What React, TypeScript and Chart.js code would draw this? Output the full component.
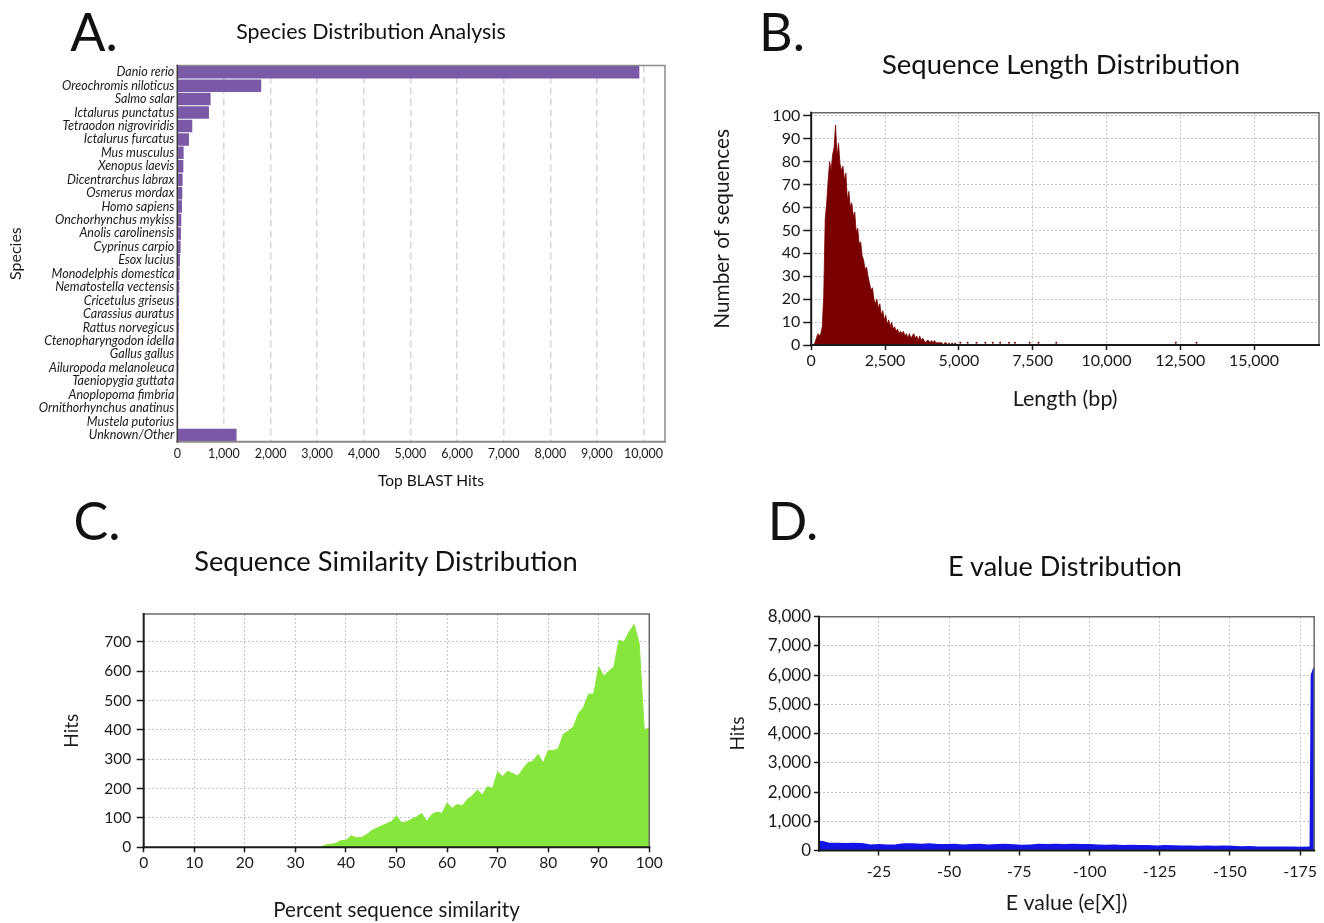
import React, { useEffect, useRef } from 'react';
import { Chart, registerables } from 'chart.js';

Chart.register(...registerables);

const FONT = 'Lato, "Open Sans", sans-serif';
const TEXT = '#1a1a1a';

// ---------- Panel A: species distribution ----------
const SPECIES = [
  'Danio rerio', 'Oreochromis niloticus', 'Salmo salar', 'Ictalurus punctatus',
  'Tetraodon nigroviridis', 'Ictalurus furcatus', 'Mus musculus', 'Xenopus laevis',
  'Dicentrarchus labrax', 'Osmerus mordax', 'Homo sapiens', 'Onchorhynchus mykiss',
  'Anolis carolinensis', 'Cyprinus carpio', 'Esox lucius', 'Monodelphis domestica',
  'Nematostella vectensis', 'Cricetulus griseus', 'Carassius auratus', 'Rattus norvegicus',
  'Ctenopharyngodon idella', 'Gallus gallus', 'Ailuropoda melanoleuca', 'Taeniopygia guttata',
  'Anoplopoma fimbria', 'Ornithorhynchus anatinus', 'Mustela putorius', 'Unknown/Other',
];
const TOP_HITS = [
  9910, 1800, 714, 679, 321, 250, 136, 130, 114, 107, 100, 86, 79, 71, 57, 50,
  43, 40, 36, 34, 30, 28, 24, 18, 16, 10, 8, 1271,
];
const HITS_TICKS = [0, 1000, 2000, 3000, 4000, 5000, 6000, 7000, 8000, 9000, 10000];

// ---------- Panel B: sequence length distribution (50 bp bins from 0) ----------
const LENGTH_BIN_WIDTH = 50;
const LENGTH_COUNTS = [
  0, 0, 1, 3, 5, 4, 5, 8, 22, 55,
  62, 72, 80, 76, 83, 86, 96, 82, 88, 79,
  76, 78, 72, 75, 63, 67, 60, 62, 56, 58,
  49, 51, 44, 45, 39, 37, 33, 34, 30, 27,
  24, 25, 20, 18, 20, 16, 18, 13, 15, 11,
  13, 9, 11, 8, 10, 7, 8, 6, 7, 5,
  6, 5, 6, 4, 5, 3, 5, 3, 4, 5,
  3, 4, 2, 4, 2, 3, 2, 1, 2, 2,
  1, 2, 1, 2, 1, 1, 1, 1, 1, 0,
  1, 1, 0, 1, 0, 1, 0, 1, 0, 0,
];
const TAIL_LENGTHS = [5050, 5300, 5600, 5900, 6150, 6400, 6700, 6900, 7400, 7700, 8300, 12350, 13050];
const TAIL_COUNTS = [1, 1, 1, 1, 1, 1, 1, 1, 1, 1, 1, 1, 1];
const LENGTH_TICKS = [0, 2500, 5000, 7500, 10000, 12500, 15000];
const SEQ_COUNT_TICKS = [0, 10, 20, 30, 40, 50, 60, 70, 80, 90, 100];

// ---------- Panel C: percent similarity (0..100) ----------
const SIMILARITY_PCT = [
  0, 1, 2, 3, 4, 5, 6, 7, 8, 9, 10, 11, 12, 13, 14, 15, 16, 17, 18, 19, 20,
  21, 22, 23, 24, 25, 26, 27, 28, 29, 30, 31, 32, 33, 34, 35, 36, 37, 38, 39, 40,
  41, 42, 43, 44, 45, 46, 47, 48, 49, 50, 51, 52, 53, 54, 55, 56, 57, 58, 59, 60,
  61, 62, 63, 64, 65, 66, 67, 68, 69, 70, 71, 72, 73, 74, 75, 76, 77, 78, 79, 80,
  81, 82, 83, 84, 85, 86, 87, 88, 89, 90, 91, 92, 93, 94, 95, 96, 97, 98, 99, 100,
];
const SIMILARITY_HITS = [
  0, 0, 0, 0, 0, 0, 0, 0, 0, 0, 0, 0, 0, 0, 0, 0, 0, 0, 0, 0, 0,
  0, 0, 0, 0, 0, 0, 0, 0, 0, 0, 0, 0, 0, 0, 0, 8, 10, 14, 23, 23,
  39, 33, 33, 42, 56, 65, 73, 80, 88, 107, 84, 87, 96, 104, 115, 89, 112, 120, 116, 151,
  133, 146, 141, 163, 176, 195, 178, 207, 200, 257, 241, 260, 251, 243, 267, 288, 293, 317, 287, 330,
  329, 336, 385, 396, 411, 456, 477, 522, 522, 615, 583, 600, 615, 706, 700, 734, 759, 695, 400, 407,
];
const PCT_TICKS = [0, 10, 20, 30, 40, 50, 60, 70, 80, 90, 100];
const SIM_HIT_TICKS = [0, 100, 200, 300, 400, 500, 600, 700];

// ---------- Panel D: E value distribution ----------
const E_EXPONENTS = [
  -3.66, -5, -7, -10, -13, -16, -19, -22, -25, -28, -31, -34, -37, -40, -43, -46, -49,
  -52, -55, -58, -61, -64, -67, -70, -73, -76, -79, -82, -85, -88, -91, -94, -97, -100,
  -103, -106, -109, -112, -115, -118, -121, -124, -127, -130, -133, -136, -139, -142,
  -145, -148, -151, -154, -157, -160, -163, -166, -169, -172, -175, -178, -178.7, -179.1, -180,
];
const E_HITS = [
  300, 290, 240, 230, 225, 230, 220, 170, 190, 175, 180, 210, 215, 200, 215, 190, 185,
  200, 175, 185, 200, 170, 185, 195, 180, 160, 175, 195, 190, 200, 185, 195, 190, 185,
  170, 160, 175, 155, 160, 150, 155, 140, 150, 145, 140, 135, 130, 140,
  125, 135, 130, 115, 120, 100, 105, 100, 105, 100, 95, 100, 100, 6000, 6250,
];
const E_TICKS = [-25, -50, -75, -100, -125, -150, -175];
const E_HIT_TICKS = [0, 1000, 2000, 3000, 4000, 5000, 6000, 7000, 8000];

// ---------- helpers ----------
const framePlugin = {
  id: 'frame',
  afterDraw(chart: any, _args: any, opts: any) {
    const { ctx, chartArea: a } = chart;
    ctx.save();
    ctx.lineCap = 'square';
    ctx.strokeStyle = opts.frameColor;
    ctx.lineWidth = opts.frameWidth;
    ctx.beginPath();
    ctx.moveTo(a.left, a.top);
    ctx.lineTo(a.right, a.top);
    ctx.lineTo(a.right, a.bottom);
    ctx.stroke();
    ctx.strokeStyle = opts.bottomColor;
    ctx.lineWidth = opts.bottomWidth;
    ctx.beginPath();
    ctx.moveTo(a.left, a.bottom);
    ctx.lineTo(a.right, a.bottom);
    ctx.stroke();
    ctx.strokeStyle = opts.leftColor;
    ctx.lineWidth = opts.leftWidth;
    ctx.beginPath();
    ctx.moveTo(a.left, a.top);
    ctx.lineTo(a.left, a.bottom);
    ctx.stroke();
    ctx.restore();
  },
};

const darkFrame = {
  frameColor: '#6a6a6a', frameWidth: 1.5,
  bottomColor: '#1a1a1a', bottomWidth: 2,
  leftColor: '#1a1a1a', leftWidth: 2,
};

const font = (size: number, style?: string) => ({ family: FONT, size, style: style || 'normal' });

const fixedTicks = (values: number[]) => (scale: any) => {
  scale.ticks = values.map((value) => ({ value }));
};

function dottedGrid(tickLength: number) {
  return {
    color: '#c4c4c4',
    lineWidth: 1,
    borderDash: [2, 2],
    drawTicks: true,
    tickLength,
    tickColor: '#1a1a1a',
    tickWidth: 1.5,
  };
}

function ChartCanvas(props: { left: number; top: number; width: number; height: number; make: () => any }) {
  const ref = useRef<HTMLCanvasElement>(null);
  useEffect(() => {
    const chart = new Chart(ref.current as HTMLCanvasElement, props.make());
    return () => chart.destroy();
  }, []);
  return (
    <canvas
      ref={ref}
      width={props.width}
      height={props.height}
      style={{ position: 'absolute', left: props.left, top: props.top, width: props.width, height: props.height }}
    />
  );
}

function Label(props: { cx: number; cy: number; size: number; text: string }) {
  return (
    <div
      style={{
        position: 'absolute',
        left: props.cx - 400,
        width: 800,
        top: props.cy - props.size * 0.6,
        height: props.size * 1.2,
        lineHeight: `${props.size * 1.2}px`,
        fontSize: props.size,
        fontFamily: FONT,
        textAlign: 'center',
        color: '#111',
        whiteSpace: 'nowrap',
      }}
    >
      {props.text}
    </div>
  );
}

// ---------- chart configs ----------
const makeA = () => ({
  type: 'bar',
  data: {
    labels: SPECIES,
    datasets: [
      {
        data: TOP_HITS,
        backgroundColor: '#7a59a6',
        barPercentage: 0.93,
        categoryPercentage: 1,
      },
    ],
  },
  options: {
    indexAxis: 'y',
    responsive: false,
    animation: false,
    locale: 'en-US',
    layout: { padding: { left: 0, top: 10, right: 25, bottom: 11.6 } },
    plugins: {
      legend: { display: false },
      tooltip: { enabled: false },
      frame: {
        frameColor: '#8a8a8a', frameWidth: 1.5,
        bottomColor: '#8a8a8a', bottomWidth: 2,
        leftColor: '#3a3a3a', leftWidth: 1.5,
      },
    },
    scales: {
      x: {
        type: 'linear',
        min: 0,
        max: 10460,
        z: 1,
        afterBuildTicks: fixedTicks(HITS_TICKS),
        ticks: { padding: 5, font: font(12.5), color: TEXT, maxRotation: 0 },
        grid: { color: '#d6d6d6', lineWidth: 1.5, drawTicks: false, borderDash: [7, 4] },
        border: { display: false, dash: [7, 4] },
        title: { display: false },
        afterFit: (s: any) => { s.height = 46.7; },
      },
      y: {
        type: 'category',
        ticks: { autoSkip: false, padding: 3, font: font(12.5, 'italic'), color: TEXT },
        grid: { display: false, drawTicks: false },
        border: { display: false },
        title: { display: true, text: 'Species', font: font(16), color: TEXT, padding: { top: 6.4, bottom: 0 } },
        afterFit: (s: any) => { s.width = 177.3; },
      },
    },
  },
  plugins: [framePlugin],
});

const makeB = () => ({
  type: 'line',
  data: {
    datasets: [
      {
        data: LENGTH_COUNTS.map((v, i) => ({ x: i * LENGTH_BIN_WIDTH + LENGTH_BIN_WIDTH / 2, y: v })),
        borderColor: '#7a0000',
        backgroundColor: '#7a0000',
        borderWidth: 0.8,
        fill: 'origin',
        pointRadius: 0,
        tension: 0,
      },
      {
        data: TAIL_LENGTHS.map((x, i) => ({ x, y: TAIL_COUNTS[i] })),
        showLine: false,
        pointRadius: 1,
        pointBorderWidth: 0,
        backgroundColor: '#7a0000',
        borderColor: '#7a0000',
      },
    ],
  },
  options: {
    responsive: false,
    animation: false,
    locale: 'en-US',
    layout: { padding: { left: 9.6, top: 42.7, right: 5, bottom: 7.6 } },
    plugins: { legend: { display: false }, tooltip: { enabled: false }, frame: darkFrame },
    scales: {
      x: {
        type: 'linear',
        min: 0,
        max: 17200,
        afterBuildTicks: fixedTicks(LENGTH_TICKS),
        ticks: { padding: 1, font: font(16), color: TEXT, maxRotation: 0 },
        grid: dottedGrid(5),
        border: { display: false, dash: [2, 2] },
        title: { display: true, text: 'Length (bp)', font: font(21.5), color: TEXT, padding: 0 },
        afterFit: (s: any) => { s.height = 67.3; },
      },
      y: {
        type: 'linear',
        min: 0,
        max: 101.3,
        afterBuildTicks: fixedTicks(SEQ_COUNT_TICKS),
        ticks: { padding: 3, font: font(16), color: TEXT },
        grid: dottedGrid(8),
        border: { display: false, dash: [2, 2] },
        title: { display: true, text: 'Number of sequences', font: font(20.8), color: TEXT, padding: 0 },
        afterFit: (s: any) => { s.width = 101.6; },
      },
    },
  },
  plugins: [framePlugin],
});

const makeC = () => ({
  type: 'line',
  data: {
    datasets: [
      {
        data: SIMILARITY_HITS.map((v, i) => ({ x: SIMILARITY_PCT[i], y: v })),
        borderColor: '#86e63c',
        backgroundColor: '#86e63c',
        borderWidth: 1,
        fill: 'origin',
        pointRadius: 0,
        tension: 0,
      },
    ],
  },
  options: {
    responsive: false,
    animation: false,
    locale: 'en-US',
    layout: { padding: { left: 20.1, top: 24, right: 20.7, bottom: 0 } },
    plugins: { legend: { display: false }, tooltip: { enabled: false }, frame: darkFrame },
    scales: {
      x: {
        type: 'linear',
        min: 0,
        max: 100,
        afterBuildTicks: fixedTicks(PCT_TICKS),
        ticks: { padding: 1.7, font: font(15.5), color: TEXT, maxRotation: 0 },
        grid: dottedGrid(5),
        border: { display: false, dash: [2, 2] },
        title: { display: true, text: 'Percent sequence similarity', font: font(20.6), color: TEXT, padding: 0 },
        afterFit: (s: any) => { s.height = 75.7; },
      },
      y: {
        type: 'linear',
        min: 0,
        max: 795,
        afterBuildTicks: fixedTicks(SIM_HIT_TICKS),
        ticks: { padding: 5.5, font: font(15.5), color: TEXT },
        grid: dottedGrid(7),
        border: { display: false, dash: [2, 2] },
        title: { display: true, text: 'Hits', font: font(19), color: TEXT, padding: 0 },
        afterFit: (s: any) => { s.width = 83.6; },
      },
    },
  },
  plugins: [framePlugin],
});

const makeD = () => ({
  type: 'line',
  data: {
    datasets: [
      {
        data: E_EXPONENTS.map((x, i) => ({ x, y: E_HITS[i] })),
        borderColor: '#1414e6',
        backgroundColor: '#1414e6',
        borderWidth: 2,
        fill: 'origin',
        pointRadius: 0,
        tension: 0,
      },
    ],
  },
  options: {
    responsive: false,
    animation: false,
    locale: 'en-US',
    layout: { padding: { left: 26.1, top: 26.7, right: 9, bottom: 6.6 } },
    plugins: { legend: { display: false }, tooltip: { enabled: false }, frame: darkFrame },
    scales: {
      x: {
        type: 'linear',
        reverse: true,
        min: -180,
        max: -3.66,
        afterBuildTicks: fixedTicks(E_TICKS),
        ticks: { padding: 6.7, font: font(16), color: TEXT, maxRotation: 0 },
        grid: dottedGrid(5),
        border: { display: false, dash: [2, 2] },
        title: { display: true, text: 'E value (e[X])', font: font(21.3), color: TEXT, padding: 0 },
        afterFit: (s: any) => { s.height = 65.9; },
      },
      y: {
        type: 'linear',
        min: 0,
        max: 8000,
        afterBuildTicks: fixedTicks(E_HIT_TICKS),
        ticks: { padding: 3, font: font(17), color: TEXT },
        grid: dottedGrid(5),
        border: { display: false, dash: [2, 2] },
        title: { display: true, text: 'Hits', font: font(19), color: TEXT, padding: 0 },
        afterFit: (s: any) => { s.width = 92.9; },
      },
    },
  },
  plugins: [framePlugin],
});

export default function App() {
  return (
    <div
      style={{
        position: 'fixed',
        left: 0,
        top: 0,
        width: 1324,
        height: 923,
        overflow: 'hidden',
        background: '#ffffff',
      }}
    >
      <ChartCanvas left={0} top={55} width={690} height={445} make={makeA} />
      <ChartCanvas left={700} top={70} width={624} height={350} make={makeB} />
      <ChartCanvas left={40} top={590} width={630} height={333} make={makeC} />
      <ChartCanvas left={700} top={590} width={624} height={333} make={makeD} />

      <Label cx={94} cy={31} size={52} text="A." />
      <Label cx={782} cy={31} size={52} text="B." />
      <Label cx={97} cy={520} size={52} text="C." />
      <Label cx={793} cy={520} size={52} text="D." />

      <Label cx={371} cy={32} size={21.4} text="Species Distribution Analysis" />
      <Label cx={431} cy={480} size={15.5} text="Top BLAST Hits" />
      <Label cx={1061} cy={63} size={27.5} text="Sequence Length Distribution" />
      <Label cx={386} cy={561} size={27.3} text="Sequence Similarity Distribution" />
      <Label cx={1065} cy={566} size={27.1} text="E value Distribution" />
    </div>
  );
}
